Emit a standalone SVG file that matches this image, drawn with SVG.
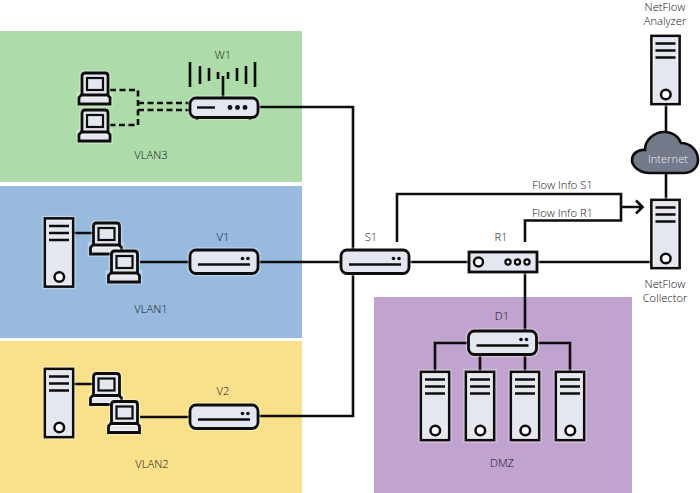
<svg xmlns="http://www.w3.org/2000/svg" xmlns:xlink="http://www.w3.org/1999/xlink" width="700" height="493" viewBox="0 0 700 493">
<style>
text{font-family:"Open Sans","Noto Sans","Liberation Sans",sans-serif;font-size:11.200px;font-weight:300;fill:#111116;text-anchor:middle}
.ln{fill:none;stroke:#0d0d0d;stroke-width:2.600}
.dash{stroke-dasharray:6 3.500}
.dev{fill:#e4e6f0;stroke:#0d0d0d;stroke-width:2.800}
.halo{fill:none;stroke:#fff;stroke-opacity:.35;stroke-width:5.500}
.in{fill:none;stroke:#0d0d0d;stroke-width:2.400}
.dot{fill:#0d0d0d}
</style>
<defs>
<g id="srv">
<rect class="halo" x="0" y="0" width="28" height="68"/>
<rect class="dev" x="0" y="0" width="28" height="68"/>
<rect x="1.700" y="1.700" width="24.600" height="64.600" fill="none" stroke="#fff" stroke-opacity=".7" stroke-width="1.200"/>
<path class="in" d="M4 7.500H24M4 14.500H24M4 21.500H24"/>
<circle cx="14.300" cy="58.500" r="4.800" fill="#fff" stroke="#0d0d0d" stroke-width="2.500"/>
</g>
<g id="lap">
<path class="halo" d="M3 22V3Q3 0 6 0H26Q29 0 29 3V22H31V31H0V22Z"/>
<path class="dev" d="M3 22V3Q3 0 6 0H26Q29 0 29 3V22"/>
<rect x="8" y="5" width="16" height="12" fill="#e4e6f0" stroke="#0d0d0d" stroke-width="2.200"/>
<path class="dev" d="M2.500 22H28.500L31 24.500V31H0V24.500Z" style="fill:#fff"/>
<rect x="2" y="24.500" width="27" height="4.500" fill="#e4e6f0"/>
</g>
<g id="sw">
<rect class="halo" x="0" y="0" width="68" height="23.500" rx="6"/>
<rect class="dev" x="0" y="0" width="68" height="23.500" rx="6"/>
<path class="in" d="M8 14.500H60"/>
<circle class="dot" cx="52.500" cy="8.500" r="1.800"/><circle class="dot" cx="58" cy="8.500" r="1.800"/>
</g>
</defs>
<rect width="700" height="493" fill="#fff"/>
<g id="zones">
<rect x="0" y="31" width="302" height="151" fill="#addba9"/>
<rect x="0" y="186" width="302" height="152" fill="#98bade"/>
<rect x="0" y="341" width="302" height="152" fill="#f9e08a"/>
<rect x="374" y="297" width="258" height="196" fill="#c0a3cf"/>
</g>
<g id="connectors">
<path class="ln dash" d="M110 90H138V125H110M138 103H190M138 110H190"/>
<path class="ln" d="M258 107H353V416H258M258 262H341M140 262H190M73 233H93M140 417H190M73 384H93M409 262H469M537 262H651M397 242V194H621V220.500H525V242M621 207H642M636 200.500L642.500 207L636 213.500M525 272V331M468 343H435V372M537 343H570V372M480 355V372M525 355V372M666 104V132M666 173V200"/>
</g>
<g id="W1">
<path class="ln" d="M190 62V87M200 66V84M209 68V81M218 72V79M228 72V79M237 68V81M246 66V84M255 62V87M223 76V98M197 117V120M250 117V120"/>
<rect class="halo" x="190" y="98" width="68" height="19.500" rx="6"/>
<rect class="dev" x="190" y="98" width="68" height="19.500" rx="6"/>
<path class="in" d="M197 107.500H215"/>
<circle class="dot" cx="230" cy="107.500" r="2.400"/><circle class="dot" cx="237.500" cy="107.500" r="2.400"/><circle class="dot" cx="245" cy="107.500" r="2.400"/>
<text x="223" y="59">W1</text>
</g>
<g id="VLAN3"><use xlink:href="#lap" href="#lap" x="79" y="73"/><use xlink:href="#lap" href="#lap" x="79" y="110"/><text x="151" y="159">VLAN3</text></g>
<g id="VLAN1"><use xlink:href="#srv" href="#srv" x="45" y="218.500"/><use xlink:href="#lap" href="#lap" x="90.500" y="223"/><use xlink:href="#lap" href="#lap" x="108.500" y="251"/><text x="151" y="313">VLAN1</text></g>
<g id="V1"><use xlink:href="#sw" href="#sw" x="190" y="250"/><text x="223" y="241">V1</text></g>
<g id="VLAN2"><use xlink:href="#srv" href="#srv" x="45" y="369"/><use xlink:href="#lap" href="#lap" x="90.500" y="373.500"/><use xlink:href="#lap" href="#lap" x="108.500" y="401.500"/><text x="152" y="468">VLAN2</text></g>
<g id="V2"><use xlink:href="#sw" href="#sw" x="190" y="405"/><text x="223" y="395">V2</text></g>
<g id="S1"><use xlink:href="#sw" href="#sw" x="341" y="250"/><text x="371" y="241">S1</text></g>
<g id="R1">
<rect class="halo" x="469" y="252" width="68" height="20"/>
<rect class="dev" x="469" y="252" width="68" height="20"/>
<circle cx="478.500" cy="262" r="4.500" fill="#fff" stroke="#0d0d0d" stroke-width="2.400"/>
<g fill="#fff" stroke="#0d0d0d" stroke-width="2.200"><circle cx="508" cy="262" r="2.600"/><circle cx="517.500" cy="262" r="2.600"/><circle cx="527" cy="262" r="2.600"/></g>
<text x="501" y="241">R1</text>
</g>
<g id="D1"><use xlink:href="#sw" href="#sw" x="468.500" y="331"/><text x="502" y="320">D1</text></g>
<g id="DMZ"><use xlink:href="#srv" href="#srv" x="421" y="372"/><use xlink:href="#srv" href="#srv" x="466" y="372"/><use xlink:href="#srv" href="#srv" x="511" y="372"/><use xlink:href="#srv" href="#srv" x="556" y="372"/><text x="502" y="467">DMZ</text></g>
<g id="Analyzer"><use xlink:href="#srv" href="#srv" x="651.500" y="36"/><text x="665" y="11">NetFlow</text><text x="665" y="25">Analyzer</text></g>
<g id="Internet"><path d="M650 173C639 173 632 166 632 160C632 154 638 149 645 150C645 140 654 132 664 132C673 132 679 137 681 143C691 143 698 151 698 160C698 168 691 173 684 173Z" fill="#747a8a" stroke="#0d0d0d" stroke-width="2.600"/><text x="668" y="163" style="fill:#eceef4">Internet</text></g>
<g id="Collector"><use xlink:href="#srv" href="#srv" x="651.500" y="200"/><text x="665" y="288">NetFlow</text><text x="665" y="302">Collector</text></g>
<g id="flow-labels"><text x="562.500" y="189">Flow Info S1</text><text x="562.500" y="217">Flow Info R1</text></g>
</svg>
